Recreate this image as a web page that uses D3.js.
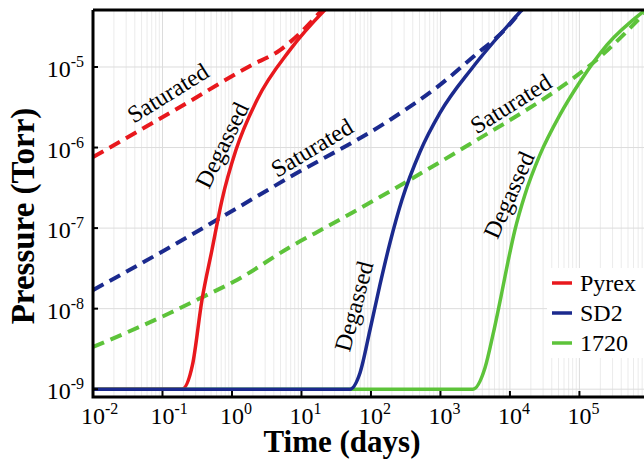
<!DOCTYPE html>
<html>
<head>
<meta charset="utf-8">
<script src="https://cdn.jsdelivr.net/npm/d3@7"></script>
<style>
  body { margin: 0; background: #fff; }
  text { font-family: "Liberation Serif", "Times New Roman", serif; }
</style>
</head>
<body>
<script>

// time (days), pressure (Torr)
var pyrex_saturated = [[0.01,7.6e-7],[0.151,2.92e-6],[1.82,1.03e-5],[4.91,1.62e-5],[9.5,2.63e-5],[19.7,5.07e-5],[30,7.4e-5]];
var pyrex_degassed = [[0.01,1e-9],[0.191,1e-9],[0.27,2.0e-9],[0.37,1.28e-8],[0.515,5.35e-8],[0.718,2.23e-7],[1.14,9.3e-7],[2.29,3.9e-6],[6.84,1.63e-5],[21.8,5.13e-5],[35.8,7.8e-5]];
var sd2_saturated = [[0.01,1.7e-8],[0.128,5.8e-8],[0.67,1.33e-7],[6.8,4.3e-7],[187,2.2e-6],[984,6e-6],[2940,1.33e-5],[9060,3.1e-5],[13900,4.8e-5],[17000,6e-5]];
var sd2_degassed = [[0.01,1e-9],[49.9,1e-9],[69.5,1.59e-9],[96.8,5.43e-9],[134.6,1.97e-8],[187.5,6.53e-8],[279,2.23e-7],[507,8.8e-7],[984,2.69e-6],[2940,1e-5],[13930,4.82e-5],[22900,7.8e-5]];
var c1720_saturated = [[0.01,3.34e-9],[0.128,8.83e-9],[0.383,1.4e-8],[1.18,2.27e-8],[6.84,5.82e-8],[25.7,1.09e-7],[134.6,2.43e-7],[706,5.57e-7],[3700,1.31e-6],[13930,2.61e-6],[52400,5.5e-6],[197000,1.33e-5],[847000,4.55e-5]];
var c1720_degassed = [[0.01,1e-9],[2940,1e-9],[4370,1.83e-9],[5690,4.71e-9],[7670,1.61e-8],[9360,3.8e-8],[11800,9.47e-8],[16400,2.58e-7],[27000,8.1e-7],[52400,2.54e-6],[101600,6.5e-6],[249000,1.88e-5],[847000,4.95e-5]];

var series_names = ["Pyrex", "SD2", "1720"];
var x_ticks = [1e-2, 1e-1, 1e0, 1e1, 1e2, 1e3, 1e4, 1e5];
var y_ticks = [1e-9, 1e-8, 1e-7, 1e-6, 1e-5];

// curve labels: text, time, pressure, angle
var label_text = ["Saturated", "Degassed", "Saturated", "Degassed", "Saturated", "Degassed"];
var label_t = [0.12, 0.72, 14.2, 57, 10300, 9700];
var label_p = [4.75e-6, 1.07e-6, 9.9e-7, 1.07e-8, 3.5e-6, 2.57e-7];
var label_angle = [-32, -64, -31, -75, -32, -66];

var colors = ["#e8181d", "#1b2a8e", "#5dc33a"];

function draw_chart() {

    var width = 644, height = 460;
    var x0 = 93, x1 = 644, y0 = 10, y1 = 397;

    var xScale = d3.scaleLog().domain([1e-2, 8.5e5]).range([x0, x1]);
    var yScale = d3.scaleLog().domain([8e-10, 5.1e-5]).range([y1, y0]);

    var svg = d3.select("body").append("svg")
        .attr("width", width)
        .attr("height", height);

    svg.append("rect").attr("width", width).attr("height", height).attr("fill", "#fff");

    var defs = svg.append("defs");
    defs.append("clipPath").attr("id", "plot_clip")
        .append("rect")
        .attr("x", x0).attr("y", y0)
        .attr("width", x1 - x0).attr("height", y1 - y0);

    // grid lines
    var minor_x = [];
    for (var e = -2; e <= 5; e++) {
        for (var m = 1; m <= 9; m++) {
            var v = m * Math.pow(10, e);
            if (v <= 8.5e5) minor_x.push(v);
        }
    }
    svg.append("g").selectAll("line")
        .data(minor_x)
        .enter().append("line")
        .attr("x1", function(d) { return xScale(d); })
        .attr("x2", function(d) { return xScale(d); })
        .attr("y1", y0)
        .attr("y2", y1)
        .attr("stroke", function(d) { return x_ticks.indexOf(d) >= 0 ? "#dcdcdc" : "#ebebeb"; })
        .attr("stroke-width", 1);

    svg.append("g").selectAll("line")
        .data(y_ticks)
        .enter().append("line")
        .attr("x1", x0)
        .attr("x2", x1)
        .attr("y1", function(d) { return yScale(d); })
        .attr("y2", function(d) { return yScale(d); })
        .attr("stroke", "#dcdcdc")
        .attr("stroke-width", 1);

    var line = d3.line()
        .x(function(d) { return xScale(d[0]); })
        .y(function(d) { return yScale(d[1]); })
        .curve(d3.curveMonotoneX);

    var plot = svg.append("g").attr("clip-path", "url(#plot_clip)");

    var saturated = [pyrex_saturated, sd2_saturated, c1720_saturated];
    var degassed = [pyrex_degassed, c1720_degassed, sd2_degassed];
    var degassed_col = [colors[0], colors[2], colors[1]];

    plot.selectAll(".sat")
        .data(saturated)
        .enter().append("path")
        .attr("class", "sat")
        .attr("d", line)
        .attr("fill", "none")
        .attr("stroke", function(d, i) { return colors[i]; })
        .attr("stroke-width", 4)
        .attr("stroke-dasharray", "12,7");

    plot.selectAll(".deg")
        .data(degassed)
        .enter().append("path")
        .attr("class", "deg")
        .attr("d", line)
        .attr("fill", "none")
        .attr("stroke", function(d, i) { return degassed_col[i]; })
        .attr("stroke-width", 3.5);

    // curve labels
    svg.append("g").selectAll("text")
        .data(label_text)
        .enter().append("text")
        .attr("transform", function(d, i) {
            return "translate(" + xScale(label_t[i]) + "," + yScale(label_p[i]) + ") rotate(" + label_angle[i] + ")";
        })
        .attr("text-anchor", "middle")
        .attr("dominant-baseline", "central")
        .attr("font-size", 24)
        .attr("fill", "#000")
        .text(function(d) { return d; });

    // frame
    svg.append("path")
        .attr("d", "M" + x0 + "," + y0 + "H" + x1 + "M" + x0 + "," + y0 + "V" + y1 + "H" + x1)
        .attr("fill", "none")
        .attr("stroke", "#000")
        .attr("stroke-width", 3);

    // ticks
    svg.append("g").selectAll("line")
        .data(x_ticks)
        .enter().append("line")
        .attr("x1", function(d) { return xScale(d); })
        .attr("x2", function(d) { return xScale(d); })
        .attr("y1", y1)
        .attr("y2", y1 - 6)
        .attr("stroke", "#000")
        .attr("stroke-width", 2);

    svg.append("g").selectAll("line")
        .data(y_ticks)
        .enter().append("line")
        .attr("x1", x0)
        .attr("x2", x0 + 5)
        .attr("y1", function(d) { return yScale(d); })
        .attr("y2", function(d) { return yScale(d); })
        .attr("stroke", "#000")
        .attr("stroke-width", 2);

    // tick labels
    var x_lab = svg.append("g").selectAll("text")
        .data(x_ticks)
        .enter().append("text")
        .attr("x", function(d) { return xScale(d) - 12; })
        .attr("y", 424)
        .attr("font-size", 24)
        .attr("fill", "#000");
    x_lab.append("tspan").text("10");
    x_lab.append("tspan").attr("dy", -10).attr("font-size", 16)
        .text(function(d) { return Math.round(Math.log10(d)); });

    var y_lab = svg.append("g").selectAll("text")
        .data(y_ticks)
        .enter().append("text")
        .attr("x", 84)
        .attr("y", function(d) { return yScale(d) + 10; })
        .attr("text-anchor", "end")
        .attr("font-size", 24)
        .attr("fill", "#000");
    y_lab.append("tspan").text("10");
    y_lab.append("tspan").attr("dy", -10).attr("font-size", 16)
        .text(function(d) { return Math.round(Math.log10(d)); });

    // axis titles
    svg.append("text")
        .attr("x", 342)
        .attr("y", 452)
        .attr("text-anchor", "middle")
        .attr("font-size", 31)
        .attr("font-weight", "bold")
        .text("Time (days)");

    svg.append("text")
        .attr("transform", "translate(34,216) rotate(-90)")
        .attr("text-anchor", "middle")
        .attr("font-size", 33)
        .attr("font-weight", "bold")
        .text("Pressure (Torr)");

    // legend
    var legend = svg.append("g").attr("transform", "translate(547,268)");
    legend.append("rect")
        .attr("width", 97)
        .attr("height", 90)
        .attr("fill", "#fff");
    var items = legend.selectAll(".item")
        .data(series_names)
        .enter().append("g")
        .attr("class", "item")
        .attr("transform", function(d, i) { return "translate(0," + (15 + i * 30) + ")"; });
    items.append("line")
        .attr("x1", 5).attr("x2", 25)
        .attr("stroke", function(d, i) { return colors[i]; })
        .attr("stroke-width", 3.5);
    items.append("text")
        .attr("x", 33)
        .attr("y", 8)
        .attr("font-size", 24)
        .text(function(d) { return d; });
}

draw_chart();

</script>
</body>
</html>
